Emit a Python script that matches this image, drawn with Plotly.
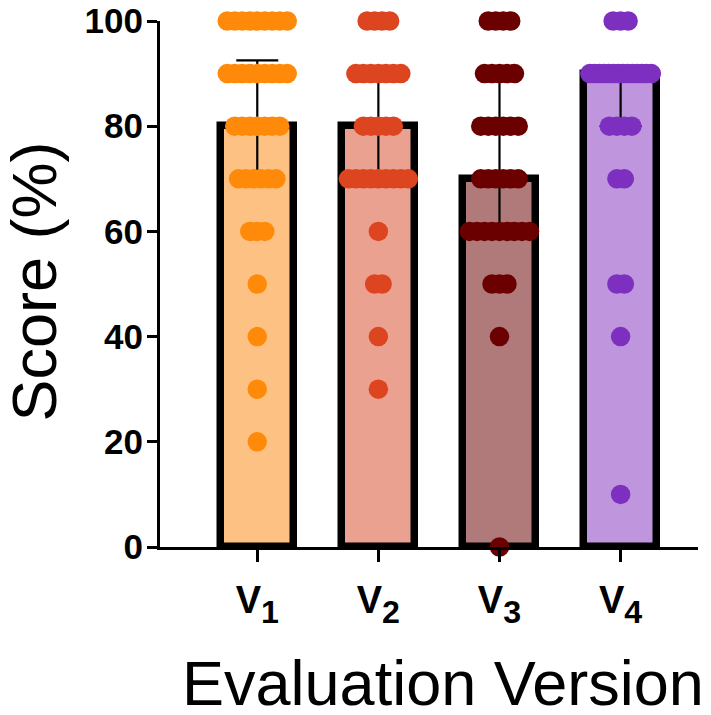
import numpy as np
import plotly.graph_objects as go

# ---------------- data ----------------
categories = ["V1", "V2", "V3", "V4"]
tick_labels = ["<span style='font-size:38px'>V</span><sub>1</sub>",
               "<span style='font-size:38px'>V</span><sub>2</sub>",
               "<span style='font-size:38px'>V</span><sub>3</sub>",
               "<span style='font-size:38px'>V</span><sub>4</sub>"]

levels_v1 = [100, 90, 80, 70, 60, 50, 40, 30, 20]
counts_v1 = [9, 9, 7, 6, 3, 1, 1, 1, 1]
levels_v2 = [100, 90, 80, 70, 60, 50, 40, 30]
counts_v2 = [4, 7, 5, 9, 1, 2, 1, 1]
levels_v3 = [100, 90, 80, 70, 60, 50, 40, 0]
counts_v3 = [4, 5, 6, 6, 9, 3, 1, 1]
levels_v4 = [100, 90, 80, 70, 50, 40, 10]
counts_v4 = [3, 14, 4, 2, 2, 1, 1]

bar_fill = ["#FDC283", "#EBA190", "#B17A7A", "#BF96DD"]
dot_color = ["#FF8A0A", "#DC4520", "#6B0000", "#7D30C0"]

groups = [(levels_v1, counts_v1), (levels_v2, counts_v2),
          (levels_v3, counts_v3), (levels_v4, counts_v4)]


def prism_percentile(vals, p):
    v = np.sort(np.asarray(vals, dtype=float))
    n = len(v)
    r = p * (n + 1)
    k = int(np.floor(r))
    f = r - k
    if k < 1:
        return v[0]
    if k >= n:
        return v[-1]
    return v[k - 1] + f * (v[k] - v[k - 1])


all_scores = [np.repeat(lv, ct) for lv, ct in groups]
medians = [prism_percentile(s, 0.5) for s in all_scores]
q1 = [prism_percentile(s, 0.25) for s in all_scores]
q3 = [prism_percentile(s, 0.75) for s in all_scores]

# ---------------- layout constants ----------------
W, H = 711, 715
ML, MR, MT, MB = 160, 13, 21, 168
x_range = [-0.803, 3.639]
plot_w = W - ML - MR
plot_h = H - MT - MB
px_per_unit = plot_w / (x_range[1] - x_range[0])

dot_d = 19.5
dot_step = 7.5
row_max_w = 81.0

xpos = list(range(len(categories)))

fig = go.Figure()

fig.add_trace(go.Bar(
    x=xpos, y=medians,
    width=72.5 / px_per_unit,
    marker=dict(color=bar_fill, line=dict(color="black", width=7.5)),
    error_y=dict(type="data", symmetric=False,
                 array=[b - a for a, b in zip(medians, q3)],
                 arrayminus=[a - b for a, b in zip(medians, q1)],
                 color="black", thickness=2.2, width=21),
    showlegend=False, hoverinfo="skip",
))

for gi, (lv, ct) in enumerate(groups):
    xs, ys = [], []
    for val, n in zip(lv, ct):
        step = min(dot_step, (row_max_w - dot_d) / (n - 1)) if n > 1 else 0
        for i in range(n):
            off = (i - (n - 1) / 2) * step / px_per_unit
            xs.append(xpos[gi] + off)
            ys.append(val)
    fig.add_trace(go.Scatter(
        x=xs, y=ys, mode="markers",
        marker=dict(size=dot_d, color=dot_color[gi], line=dict(width=0)),
        cliponaxis=False, showlegend=False, hoverinfo="skip",
    ))

font_family = "Liberation Sans, Arial, sans-serif"

fig.update_layout(
    width=W, height=H,
    margin=dict(l=ML, r=MR, t=MT, b=MB, autoexpand=False),
    paper_bgcolor="white", plot_bgcolor="white",
    font=dict(family=font_family, color="black"),
    bargap=0,
    xaxis=dict(
        range=x_range, tickmode="array", tickvals=xpos, ticktext=tick_labels,
        automargin=False, ticklabelstandoff=-4,
        showgrid=False, zeroline=False, showline=True, linecolor="black",
        linewidth=3, ticks="outside", ticklen=12, tickwidth=3, tickcolor="black",
        tickfont=dict(size=46, family=font_family, weight="bold", color="black"),
    ),
    yaxis=dict(
        range=[0, 100], tickmode="array", tickvals=[0, 20, 40, 60, 80, 100],
        automargin=False, ticklabelstandoff=-3,
        showgrid=False, zeroline=False, showline=True, linecolor="black",
        linewidth=3, ticks="outside", ticklen=10, tickwidth=3, tickcolor="black",
        tickfont=dict(size=35, family=font_family, weight="bold", color="black"),
    ),
    annotations=[
        dict(text="Evaluation Version", xref="paper", yref="paper",
             x=(443 - ML) / plot_w, y=-(683 - (H - MB)) / plot_h,
             xanchor="center", yanchor="middle", showarrow=False,
             font=dict(size=63, family=font_family, color="black")),
        dict(text="Score (%)", xref="paper", yref="paper",
             x=(33 - ML) / plot_w, y=((H - MB) - 281.5) / plot_h,
             xanchor="center", yanchor="middle", showarrow=False, textangle=-90,
             font=dict(size=63, family=font_family, color="black")),
    ],
)

fig.write_html("out.html")
